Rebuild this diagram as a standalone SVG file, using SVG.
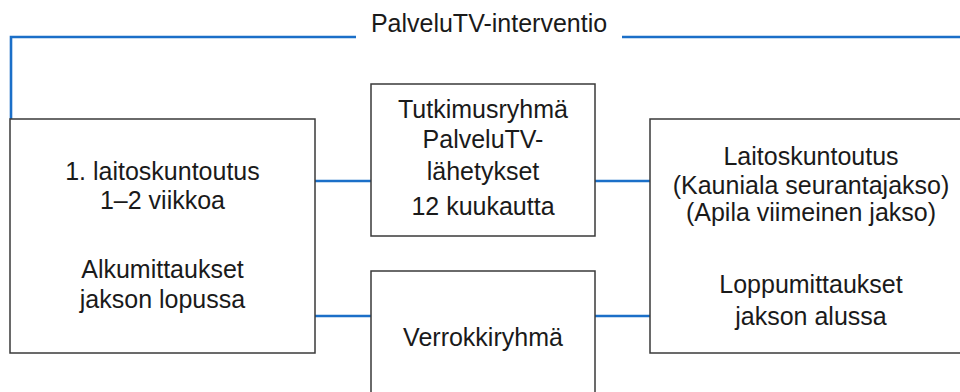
<svg xmlns="http://www.w3.org/2000/svg" width="960" height="392" viewBox="0 0 960 392">
<style>
.box{fill:#ffffff;stroke:#3a3a3a;stroke-width:1.5}
.conn{fill:none;stroke:#1b6fc8;stroke-width:2.6}
text{font-family:"Liberation Sans",Arial,sans-serif;font-size:25px;fill:#1a1a1a;text-anchor:middle}
</style>
<rect width="960" height="392" fill="#ffffff"/>
<g id="connectors">
<path class="conn" d="M11 119 V37 H356"/>
<path class="conn" d="M622 37 H962"/>
<path class="conn" d="M315 181 H371"/>
<path class="conn" d="M315 316 H371"/>
<path class="conn" d="M595 181 H650"/>
<path class="conn" d="M595 316 H650"/>
</g>
<g id="intervention-label">
<text x="489" y="32">PalveluTV-interventio</text>
</g>
<g id="node-start">
<rect class="box" x="10" y="119" width="305" height="234"/>
<text x="162.5" y="180">1. laitoskuntoutus</text>
<text x="162.5" y="209">1–2 viikkoa</text>
<text x="162.5" y="278">Alkumittaukset</text>
<text x="162.5" y="308">jakson lopussa</text>
</g>
<g id="node-research">
<rect class="box" x="371" y="84" width="224" height="152"/>
<text x="483" y="118">Tutkimusryhmä</text>
<text x="483" y="148">PalveluTV-</text>
<text x="483" y="180">lähetykset</text>
<text x="483" y="215">12 kuukautta</text>
</g>
<g id="node-control">
<rect class="box" x="371" y="271" width="224" height="140"/>
<text x="483" y="346">Verrokkiryhmä</text>
</g>
<g id="node-end">
<rect class="box" x="650" y="119" width="320" height="234"/>
<text x="811" y="165">Laitoskuntoutus</text>
<text x="811" y="194">(Kauniala seurantajakso)</text>
<text x="811" y="221">(Apila viimeinen jakso)</text>
<text x="811" y="293">Loppumittaukset</text>
<text x="811" y="325">jakson alussa</text>
</g>
</svg>
